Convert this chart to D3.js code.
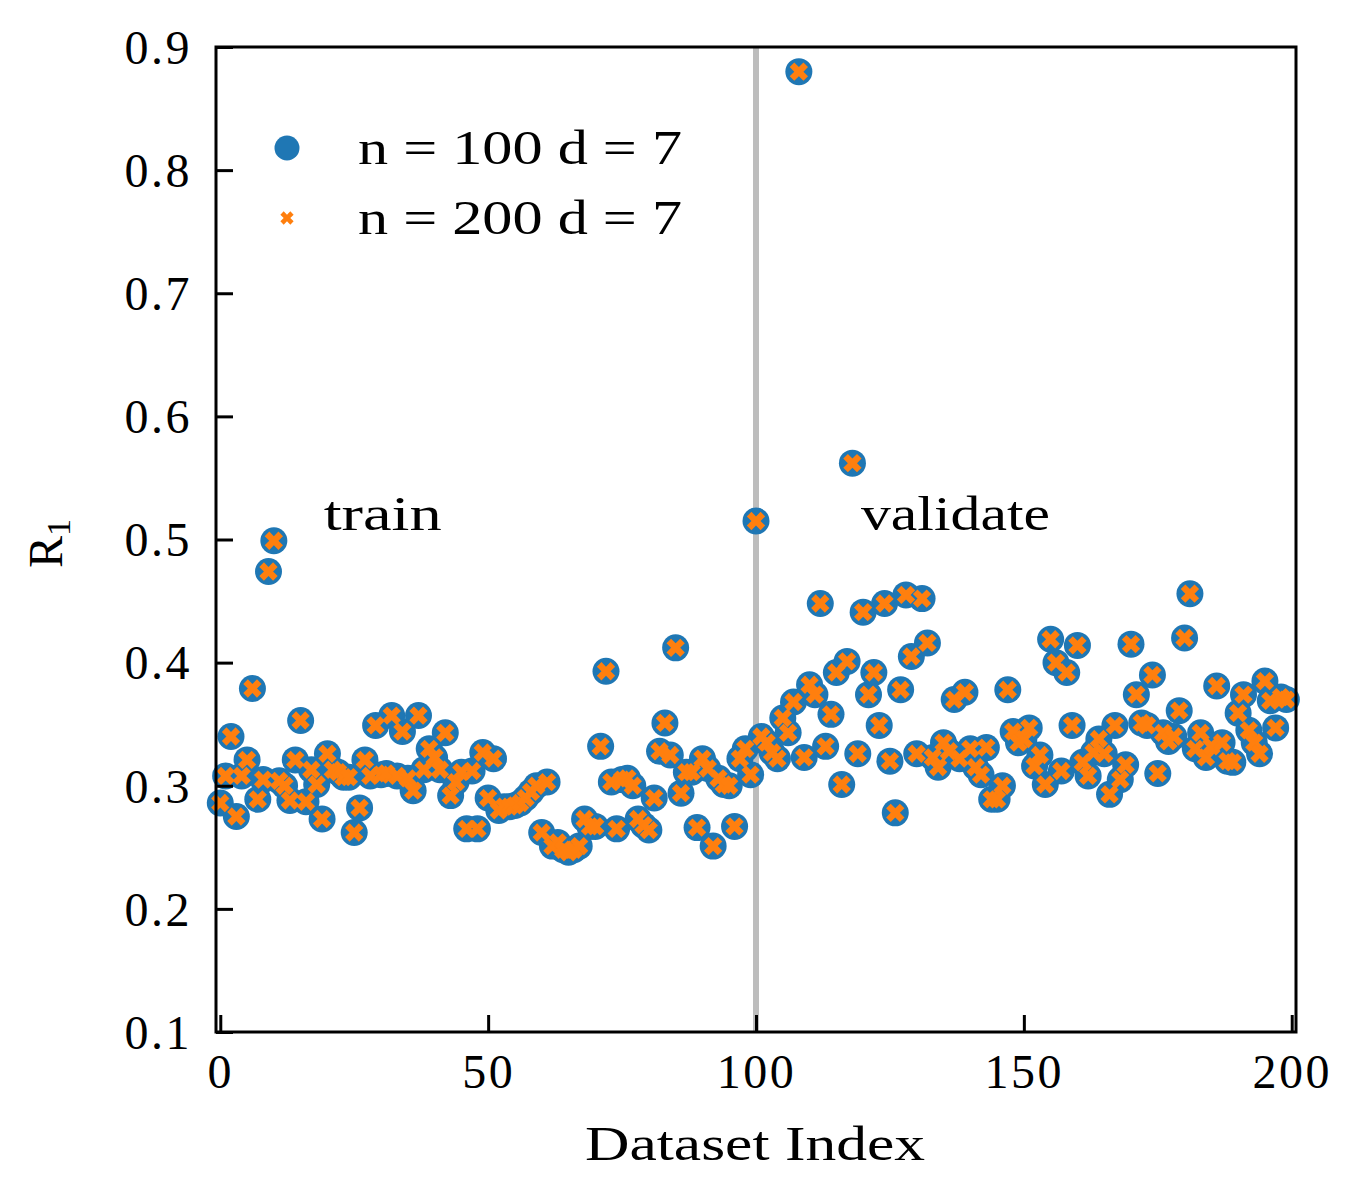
<!DOCTYPE html>
<html>
<head>
<meta charset="utf-8">
<script src="https://cdn.jsdelivr.net/npm/d3@7"></script>
<style>
  body { margin: 0; background: #fff; }
  text { font-family: "Liberation Serif", "DejaVu Serif", serif; fill: #000; }
</style>
</head>
<body>
<div id="graph"></div>
<script>
// R1 per dataset, n = 100 d = 7 (index = dataset index)
const r1N100 = [
  0.286,0.308,0.340,0.275,0.308,0.321,0.379,0.289,0.305,0.474,
  0.499,0.304,0.300,0.288,0.321,0.353,0.287,0.313,0.301,0.273,
  0.326,0.313,0.311,0.307,0.307,0.262,0.282,0.321,0.308,0.349,
  0.309,0.310,0.357,0.308,0.344,0.306,0.296,0.357,0.313,0.330,
  0.323,0.313,0.343,0.292,0.303,0.311,0.265,0.312,0.265,0.327,
  0.290,0.322,0.280,0.283,0.283,0.284,0.286,0.290,0.295,0.300,
  0.262,0.303,0.251,0.254,0.248,0.246,0.248,0.251,0.273,0.267,
  0.267,0.332,0.393,0.303,0.265,0.305,0.306,0.300,0.273,0.268,
  0.264,0.290,0.328,0.351,0.325,0.412,0.294,0.311,0.311,0.266,
  0.322,0.314,0.251,0.306,0.301,0.300,0.267,0.322,0.330,0.309,
  0.515,0.340,0.335,0.327,0.322,0.355,0.343,0.368,0.880,0.323,
  0.382,0.374,0.448,0.332,0.358,0.392,0.301,0.401,0.562,0.326,
  0.441,0.374,0.392,0.349,0.448,0.320,0.278,0.378,0.455,0.405,
  0.326,0.452,0.416,0.323,0.315,0.335,0.328,0.370,0.322,0.376,
  0.330,0.315,0.309,0.331,0.289,0.289,0.300,0.378,0.344,0.335,
  0.338,0.347,0.316,0.325,0.301,0.419,0.400,0.312,0.392,0.349,
  0.414,0.319,0.308,0.327,0.338,0.326,0.293,0.349,0.305,0.317,
  0.415,0.374,0.351,0.349,0.390,0.310,0.343,0.336,0.340,0.361,
  0.420,0.456,0.330,0.343,0.323,0.332,0.381,0.335,0.320,0.319,
  0.359,0.374,0.345,0.335,0.326,0.385,0.369,0.347,0.372,0.370
];

// R1 per dataset, n = 200 d = 7 (sits on top of the n = 100 values)
const r1N200 = [
  0.286,0.308,0.340,0.275,0.308,0.321,0.379,0.289,0.305,0.474,
  0.499,0.304,0.300,0.288,0.321,0.353,0.287,0.313,0.301,0.273,
  0.326,0.313,0.311,0.307,0.307,0.262,0.282,0.321,0.308,0.349,
  0.309,0.310,0.357,0.308,0.344,0.306,0.296,0.357,0.313,0.330,
  0.323,0.313,0.343,0.292,0.303,0.311,0.265,0.312,0.265,0.327,
  0.290,0.322,0.280,0.283,0.283,0.284,0.286,0.290,0.295,0.300,
  0.262,0.303,0.251,0.254,0.248,0.246,0.248,0.251,0.273,0.267,
  0.267,0.332,0.393,0.303,0.265,0.305,0.306,0.300,0.273,0.268,
  0.264,0.290,0.328,0.351,0.325,0.412,0.294,0.311,0.311,0.266,
  0.322,0.314,0.251,0.306,0.301,0.300,0.267,0.322,0.330,0.309,
  0.515,0.340,0.335,0.327,0.322,0.355,0.343,0.368,0.880,0.323,
  0.382,0.374,0.448,0.332,0.358,0.392,0.301,0.401,0.562,0.326,
  0.441,0.374,0.392,0.349,0.448,0.320,0.278,0.378,0.455,0.405,
  0.326,0.452,0.416,0.323,0.315,0.335,0.328,0.370,0.322,0.376,
  0.330,0.315,0.309,0.331,0.289,0.289,0.300,0.378,0.344,0.335,
  0.338,0.347,0.316,0.325,0.301,0.419,0.400,0.312,0.392,0.349,
  0.414,0.319,0.308,0.327,0.338,0.326,0.293,0.349,0.305,0.317,
  0.415,0.374,0.351,0.349,0.390,0.310,0.343,0.336,0.340,0.361,
  0.420,0.456,0.330,0.343,0.323,0.332,0.381,0.335,0.320,0.319,
  0.359,0.374,0.345,0.335,0.326,0.385,0.369,0.347,0.372,0.370
];

const xTicks = [0, 50, 100, 150, 200];
const yTicks = [0.1, 0.2, 0.3, 0.4, 0.5, 0.6, 0.7, 0.8, 0.9];
const splitIndex = 100;
const seriesLabels = ["n = 100 d = 7", "n = 200 d = 7"];
const regionLabels = ["train", "validate"];

const W = 1350, H = 1200;
const plotL = 216, plotR = 1296, plotT = 47, plotB = 1032;
const blue = "#1f77b4", orange = "#ff7f0e";

var svg = d3.select("#graph")
  .append("svg")
  .attr("width", W)
  .attr("height", H);

var x = d3.scaleLinear().domain([-0.8, 200.8]).range([plotL, plotR]);
var y = d3.scaleLinear().domain([0.1, 0.9]).range([plotB, plotT]);

// split line between train and validate
svg.append("line")
  .attr("x1", x(splitIndex)).attr("x2", x(splitIndex))
  .attr("y1", plotT).attr("y2", plotB)
  .attr("stroke", "#bdbdbd")
  .attr("stroke-width", 6);

// points
svg.append("g")
  .selectAll("circle")
  .data(r1N100)
  .join("circle")
  .attr("cx", (d, i) => x(i))
  .attr("cy", d => y(d))
  .attr("r", 13.5)
  .attr("fill", blue);

var xMark = d3.symbol().type(d3.symbolCross).size(210);
svg.append("g")
  .selectAll("path")
  .data(r1N200)
  .join("path")
  .attr("d", xMark)
  .attr("transform", (d, i) => "translate(" + x(i) + "," + y(d) + ") rotate(45)")
  .attr("fill", orange);

// axes, ticks pointing inwards
var xAxis = svg.append("g")
  .attr("transform", "translate(0," + plotB + ")")
  .call(d3.axisBottom(x).tickValues(xTicks).tickSize(-17).tickPadding(20).tickFormat(d3.format("d")));
var yAxis = svg.append("g")
  .attr("transform", "translate(" + plotL + ",0)")
  .call(d3.axisLeft(y).tickValues(yTicks).tickSize(-17).tickPadding(24).tickFormat(d3.format(".1f")));

[xAxis, yAxis].forEach(function(ax) {
  ax.select(".domain").remove();
  ax.attr("font-family", null).attr("font-size", null);
  ax.selectAll(".tick line").attr("stroke", "#000").attr("stroke-width", 3);
  ax.selectAll(".tick text").attr("font-size", 48).attr("fill", "#000")
    .attr("letter-spacing", 2.5);
});
xAxis.selectAll(".tick text").attr("dy", "0.75em");
yAxis.selectAll(".tick text").attr("dy", "0.34em");

// frame
svg.append("rect")
  .attr("x", plotL).attr("y", plotT)
  .attr("width", plotR - plotL).attr("height", plotB - plotT)
  .attr("fill", "none")
  .attr("stroke", "#000")
  .attr("stroke-width", 3);

// region labels
svg.append("text")
  .attr("x", x(19.3)).attr("y", y(0.508))
  .attr("font-size", 48)
  .attr("textLength", 118).attr("lengthAdjust", "spacingAndGlyphs")
  .text(regionLabels[0]);
svg.append("text")
  .attr("x", x(119.6)).attr("y", y(0.508))
  .attr("font-size", 48)
  .attr("textLength", 189).attr("lengthAdjust", "spacingAndGlyphs")
  .text(regionLabels[1]);

// axis labels
svg.append("text")
  .attr("x", 585).attr("y", 1160)
  .attr("font-size", 48)
  .attr("textLength", 340).attr("lengthAdjust", "spacingAndGlyphs")
  .text("Dataset Index");

var yl = svg.append("text")
  .attr("transform", "translate(62," + ((plotT + plotB) / 2 + 4) + ") rotate(-90)")
  .attr("text-anchor", "middle")
  .attr("font-size", 48);
yl.append("tspan").text("R");
yl.append("tspan").attr("font-size", 34).attr("dy", 8).text("1");

// legend
var legend = svg.append("g");
legend.append("circle")
  .attr("cx", 287).attr("cy", 148).attr("r", 12.5)
  .attr("fill", blue);
legend.append("path")
  .attr("d", d3.symbol().type(d3.symbolCross).size(110))
  .attr("transform", "translate(287,218) rotate(45)")
  .attr("fill", orange);
legend.selectAll("text.lab")
  .data(seriesLabels)
  .join("text")
  .attr("class", "lab")
  .attr("x", 358)
  .attr("y", (d, i) => 164 + i * 70)
  .attr("font-size", 48)
  .attr("textLength", 324).attr("lengthAdjust", "spacingAndGlyphs")
  .text(d => d);
</script>
</body>
</html>
